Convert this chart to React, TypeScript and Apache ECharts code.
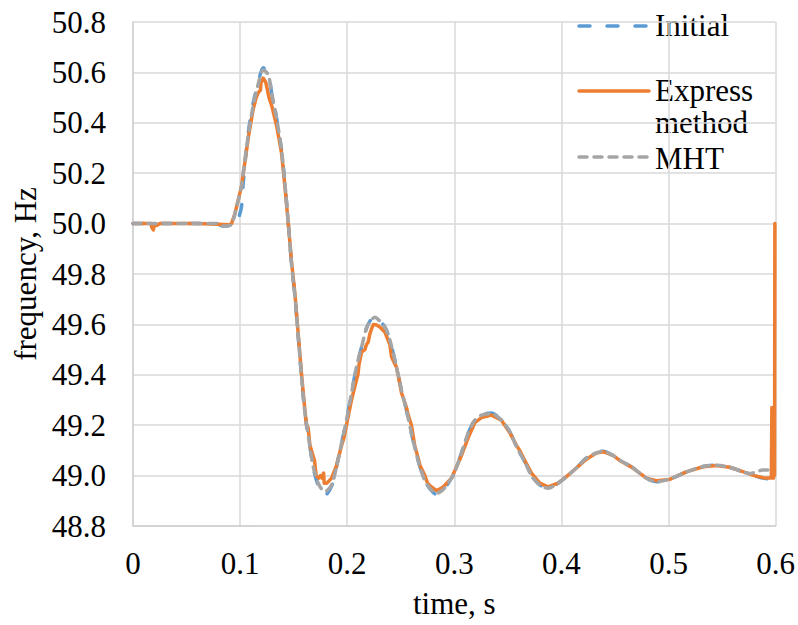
import React, { useEffect, useRef } from "react";
import * as echarts from "echarts";

// time (s) for the Initial and MHT curves
const refTime = [
  0, 0.04, 0.078, 0.084, 0.09, 0.0925, 0.0952, 0.0983, 0.1014, 0.1029, 0.1076, 0.1123, 0.117,
  0.1216, 0.1263, 0.1294, 0.134, 0.1387, 0.1418, 0.145, 0.148, 0.1512, 0.1543, 0.1574, 0.1605,
  0.1652, 0.1683, 0.1729, 0.1792, 0.1854, 0.19, 0.1947, 0.1993, 0.204, 0.2087, 0.2134, 0.218,
  0.222, 0.2258, 0.23, 0.2351, 0.2398, 0.246, 0.2506, 0.2553, 0.26, 0.2662, 0.2725, 0.2787,
  0.2834, 0.2896, 0.2974, 0.3, 0.3067, 0.3129, 0.3191, 0.3254, 0.3347, 0.344, 0.3518, 0.358,
  0.3658, 0.372, 0.3798, 0.3875, 0.3969, 0.4047, 0.414, 0.4233, 0.4326, 0.4388, 0.4482, 0.4544,
  0.4669, 0.4793, 0.4886, 0.5011, 0.5166, 0.5322, 0.5445, 0.557, 0.5694, 0.5757, 0.5815, 0.588,
  0.5985,
];

// MHT frequency (Hz)
const mhtFreq = [
  50.0, 50.0, 50.0, 49.99, 49.992, 50.0, 50.04, 50.094, 50.15, 50.2, 50.35, 50.47, 50.555,
  50.61, 50.59, 50.52, 50.42, 50.29, 50.16, 50.0, 49.84, 49.71, 49.55, 49.39, 49.25,
  49.115, 49.035, 48.97, 48.936, 48.963, 49.035, 49.128, 49.22, 49.327, 49.432, 49.51, 49.585,
  49.615, 49.628, 49.615, 49.59, 49.538, 49.43, 49.34, 49.26, 49.168, 49.06, 48.98, 48.943,
  48.93, 48.945, 48.99, 49.01, 49.09, 49.168, 49.22, 49.24, 49.246, 49.22, 49.174, 49.115,
  49.055, 49.0, 48.963, 48.95, 48.97, 48.996, 49.03, 49.07, 49.09, 49.096, 49.08, 49.062,
  49.03, 48.99, 48.976, 48.986, 49.014, 49.036, 49.041, 49.033, 49.015, 49.008, 49.014, 49.022,
  49.022,
];

// Initial frequency (Hz)
const initialFreq = [
  50.0, 50.0, 50.0, 49.99, 49.992, 50.0, 50.005, 50.02, 50.07, 50.16, 50.36, 50.48, 50.56,
  50.618, 50.595, 50.52, 50.42, 50.29, 50.16, 50.0, 49.84, 49.71, 49.55, 49.39, 49.25,
  49.115, 49.03, 48.962, 48.922, 48.958, 49.035, 49.128, 49.22, 49.327, 49.432, 49.51, 49.585,
  49.618, 49.63, 49.615, 49.59, 49.538, 49.43, 49.34, 49.26, 49.168, 49.06, 48.98, 48.94,
  48.925, 48.942, 48.99, 49.01, 49.09, 49.168, 49.22, 49.242, 49.248, 49.22, 49.174, 49.115,
  49.055, 49.0, 48.963, 48.95, 48.97, 48.996, 49.03, 49.07, 49.09, 49.097, 49.08, 49.062,
  49.03, 48.99, 48.976, 48.986, 49.014, 49.036, 49.041, 49.033, 49.015, 49.005, 48.998, 48.99,
  48.985,
];

// Express method: time (s) and frequency (Hz)
const expressTime = [
  0, 0.017, 0.0175, 0.019, 0.0195, 0.022, 0.025, 0.06, 0.09, 0.092, 0.0952, 0.0983, 0.1014,
  0.103, 0.1076, 0.112, 0.115, 0.117, 0.119, 0.1195, 0.1216, 0.124, 0.127, 0.1294, 0.134,
  0.1387, 0.1418, 0.145, 0.148, 0.1512, 0.1543, 0.1574, 0.1605, 0.162, 0.1635, 0.1652, 0.168,
  0.1695, 0.171, 0.1735, 0.175, 0.1765, 0.178, 0.1785, 0.181, 0.1854, 0.19, 0.1947, 0.197,
  0.1993, 0.204, 0.2087, 0.21, 0.211, 0.2134, 0.2165, 0.218, 0.2196, 0.221, 0.2225, 0.2245,
  0.2275, 0.2305, 0.2351, 0.2398, 0.2415, 0.246, 0.2475, 0.2506, 0.2553, 0.257, 0.26, 0.263,
  0.2662, 0.268, 0.2725, 0.275, 0.2787, 0.2834, 0.2896, 0.2974, 0.3036, 0.3067, 0.3129, 0.3191,
  0.3254, 0.33, 0.3347, 0.344, 0.3518, 0.358, 0.361, 0.3658, 0.372, 0.3798, 0.3875, 0.3969,
  0.4047, 0.414, 0.4233, 0.4326, 0.4388, 0.4482, 0.4544, 0.4669, 0.4793, 0.4886, 0.5011, 0.5166,
  0.5322, 0.5445, 0.557, 0.5694, 0.58, 0.59, 0.596, 0.5965, 0.597, 0.5975, 0.598, 0.5985,
  0.599, 0.5993,
];
const expressFreq = [
  50.0, 50.0, 49.985, 49.975, 49.99, 49.993, 50.0, 50.0, 49.995, 50.0, 50.04, 50.095, 50.15,
  50.2, 50.34, 50.45, 50.5, 50.52, 50.53, 50.56, 50.577, 50.56, 50.5, 50.47, 50.39,
  50.28, 50.15, 50.0, 49.85, 49.72, 49.56, 49.4, 49.26, 49.2, 49.19, 49.12, 49.08,
  49.06, 49.0, 48.99, 49.0, 48.99, 49.01, 48.97, 48.97, 48.99, 49.04, 49.12, 49.15,
  49.2, 49.3, 49.38, 49.4, 49.44, 49.49, 49.5, 49.52, 49.53, 49.56, 49.58, 49.6,
  49.598, 49.59, 49.57, 49.52, 49.47, 49.43, 49.4, 49.33, 49.27, 49.24, 49.2, 49.12,
  49.07, 49.04, 49.0, 48.97, 48.955, 48.94, 48.955, 48.99, 49.05, 49.08, 49.15, 49.21,
  49.23, 49.235, 49.24, 49.22, 49.17, 49.12, 49.1, 49.06, 49.01, 48.97, 48.955, 48.97,
  48.996, 49.03, 49.065, 49.09, 49.095, 49.08, 49.06, 49.03, 48.99, 48.98, 48.985, 49.015,
  49.035, 49.04, 49.033, 49.016, 49.0, 48.99, 48.99, 49.27, 48.99, 49.27, 48.99, 49.27,
  49.0, 50.0,
];

const yMin = 48.8;
const yMax = 50.8;
const yStep = 0.2;
const xMin = 0;
const xMax = 0.6;
const xStep = 0.1;

const seriesNames = ["Initial", "Express method", "MHT"];
const colors = ["#5B9BD5", "#ED7D31", "#A5A5A5"];

const FONT = "Liberation Serif";
const FS = 31;

function pairs(t: number[], f: number[]) {
  return t.map((v, i) => [v, f[i]]);
}

export default function App() {
  const ref = useRef<HTMLDivElement>(null);
  useEffect(() => {
    if (!ref.current) return;
    const chart = echarts.init(ref.current, undefined, { renderer: "svg" });
    const grid = { left: 133, right: 22, top: 22, bottom: 99 };
    const legendX = 579;
    const legendLineW = 70;
    const textX = 655;
    const legText = (text: string, y: number) => ({
      type: "text",
      x: textX,
      y,
      style: {
        text,
        fontFamily: FONT,
        fontSize: FS,
        lineHeight: 27,
        fill: "#000",
        verticalAlign: "middle",
      },
    });
    chart.setOption({
      animation: false,
      backgroundColor: "#ffffff",
      textStyle: { fontFamily: FONT },
      grid,
      xAxis: {
        type: "value",
        min: xMin,
        max: xMax,
        interval: xStep,
        name: "time, s",
        nameLocation: "middle",
        nameGap: 62,
        nameTextStyle: { fontFamily: FONT, fontSize: FS, color: "#000" },
        axisLine: { show: true, lineStyle: { color: "#D0D0D0", width: 1.5 } },
        axisTick: { show: false },
        axisLabel: {
          fontFamily: FONT,
          fontSize: FS,
          color: "#000",
          margin: 22,
          formatter: (v: number) => String(+v.toFixed(1)),
        },
        splitLine: { show: true, lineStyle: { color: "#D9D9D9", width: 1.5 } },
      },
      yAxis: {
        type: "value",
        min: yMin,
        max: yMax,
        interval: yStep,
        name: "frequency, Hz",
        nameLocation: "middle",
        nameRotate: 90,
        nameGap: 92,
        nameTextStyle: { fontFamily: FONT, fontSize: FS, color: "#000" },
        axisLine: { show: true, lineStyle: { color: "#D0D0D0", width: 1.5 } },
        axisTick: { show: false },
        axisLabel: {
          fontFamily: FONT,
          fontSize: FS,
          color: "#000",
          margin: 27,
          formatter: (v: number) => v.toFixed(1),
        },
        splitLine: { show: true, lineStyle: { color: "#D9D9D9", width: 1.5 } },
      },
      series: [
        {
          name: seriesNames[0],
          type: "line",
          data: pairs(refTime, initialFreq),
          showSymbol: false,
          smooth: 0.3,
          lineStyle: { color: colors[0], width: 3.5, type: [11, 17], cap: "round" },
          z: 2,
        },
        {
          name: seriesNames[1],
          type: "line",
          data: pairs(expressTime, expressFreq),
          showSymbol: false,
          lineStyle: { color: colors[1], width: 3.5, type: "solid", cap: "round", join: "round" },
          z: 3,
        },
        {
          name: seriesNames[2],
          type: "line",
          data: pairs(refTime, mhtFreq),
          showSymbol: false,
          smooth: 0.3,
          lineStyle: { color: colors[2], width: 3.5, type: [8, 7], cap: "round" },
          z: 4,
        },
      ],
      graphic: [
        {
          type: "group",
          z: 100,
          children: [
            {
              type: "rect",
              shape: { x: 565, y: 0, width: 207, height: 206 },
              style: { fill: "#ffffff" },
            },
            {
              type: "line",
              shape: { x1: legendX, y1: 26, x2: legendX + legendLineW, y2: 26 },
              style: { stroke: colors[0], lineWidth: 3.5, lineDash: [11, 17], lineCap: "round" },
            },
            {
              type: "line",
              shape: { x1: legendX, y1: 91, x2: legendX + legendLineW, y2: 91 },
              style: { stroke: colors[1], lineWidth: 3.5, lineCap: "round" },
            },
            {
              type: "line",
              shape: { x1: legendX, y1: 157, x2: legendX + legendLineW, y2: 157 },
              style: { stroke: colors[2], lineWidth: 3.5, lineDash: [8, 7], lineCap: "round" },
            },
            legText("Initial", 25.5),
            legText("Express", 90.5),
            legText("method", 122.5),
            legText("MHT", 158.5),
          ],
        },
      ],
    });
    return () => chart.dispose();
  }, []);
  return <div ref={ref} style={{ width: 798, height: 625, position: "absolute", left: 0, top: 0 }} />;
}
